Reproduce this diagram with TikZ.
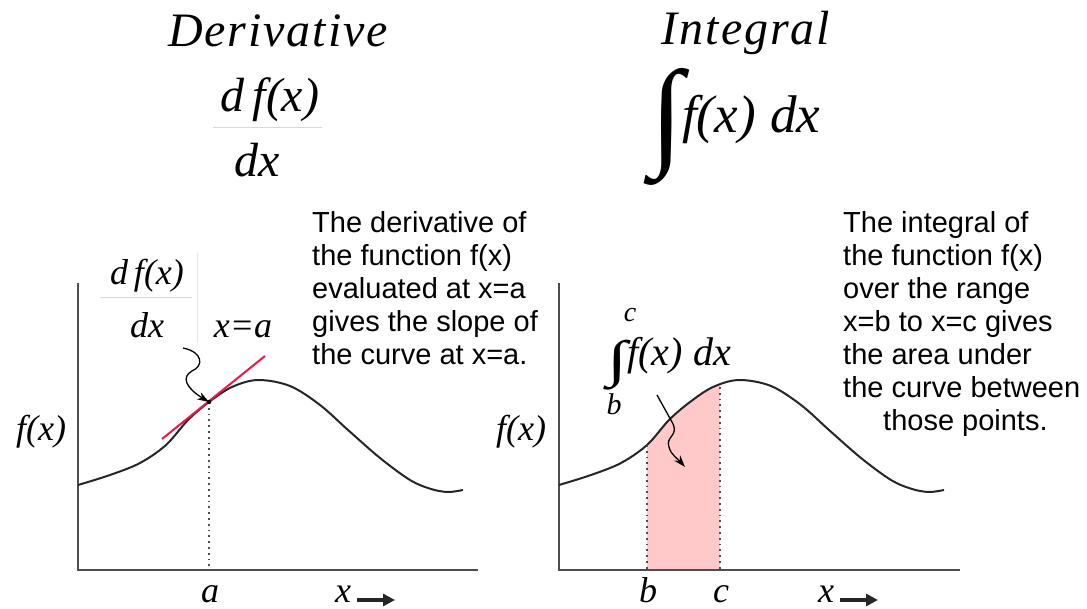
\documentclass[tikz,border=0pt]{standalone}
\usepackage{fontspec}
\setmainfont{Liberation Serif}
\newfontfamily\sansf{Liberation Sans}
\usetikzlibrary{arrows.meta}
\definecolor{axisgray}{HTML}{4D4D4D}
\definecolor{tanred}{HTML}{E8194B}
\definecolor{areapink}{HTML}{FFC9C9}
\begin{document}
\begin{tikzpicture}[x=1pt,y=-1pt,
  axis/.style={draw=axisgray, line width=2.5pt},
  fcurve/.style={draw=black!85, line width=2pt},
  guide/.style={draw=black!70, line width=1.8pt, dash pattern=on 1.8pt off 4pt},
  wavy/.style={draw=black, line width=1.3pt, -{Stealth[length=12pt,width=8pt]}},
  head/.style={font=\fontsize{48}{48}\selectfont\itshape, inner sep=0},
  lbl/.style={font=\fontsize{36}{36}\selectfont\itshape, inner sep=0},
  axlbl/.style={font=\fontsize{36}{36}\selectfont\itshape, inner sep=0},
  desc/.style={font=\sansf\fontsize{29}{33}\selectfont, align=left, inner sep=0, anchor=north west},
  fracbar/.style={draw=black!15, line width=1pt},
  xarrow/.style={draw=black!85, line width=3.5pt, -{Triangle[length=12pt,width=12pt]}}
]
\useasboundingbox (0,0) rectangle (1087,609);

% ---------------- headers
\node[head, anchor=base] (hder) at (278,47) {\addfontfeature{LetterSpace=4}Derivative};
\node[head, anchor=base] (hnum) at (270,112) {d\,f(x)};
\coordinate (hbarL) at (213,128);
\coordinate (hbarR) at (322,128);
\draw[fracbar] (hbarL) -- (hbarR);
\node[head, anchor=base] (hden) at (257,177) {dx};

\node[head, anchor=base] (hintg) at (746,45) {\addfontfeature{LetterSpace=4}Integral};
\node[inner sep=0, anchor=north west] (hint) at (650,68) {\resizebox*{33pt}{117pt}{\bfseries ∫}};
\node[head, anchor=base west, font=\fontsize{53}{53}\selectfont\itshape] (hintf) at (682,133) {f(x)\;dx};

% ---------------- left graph
\coordinate (LO) at (78,570);
\coordinate (LT) at (78,283);
\coordinate (LR) at (478,570);
\draw[axis] (LT) -- (LO) -- (LR);
\draw[fcurve] plot[smooth,tension=0.55] coordinates {(78,485) (110,475) (140,463) (166,445) (188,420) (209,402) (232,387) (258,380) (290,386) (320,405) (348,430) (380,458) (410,480) (431,489) (448,492) (463,490)};
\coordinate (A) at (209,402);
\coordinate (Aax) at (209,570);
\draw[guide] (A) -- (Aax);
\coordinate (TL) at (162,439);
\coordinate (TR) at (265,356);
\draw[tanred, line width=2pt] (TL) -- (TR);
\fill[black] (A) circle (2.2pt);
\coordinate (W1) at (183,348);
\draw[wavy] (W1) .. controls (203,352) and (204,366) .. (192,371) .. controls (181,377) and (186,388) .. (A);

\node[lbl, anchor=base] (lnum) at (147,285) {d\,f(x)};
\coordinate (lbarL) at (100,298);
\coordinate (lbarR) at (192,298);
\draw[fracbar] (lbarL) -- (lbarR);
\node[lbl, anchor=base] (lden) at (147,338) {dx};
\coordinate (vgT) at (197,253);
\coordinate (vgB) at (197,343);
\draw[draw=black!10, line width=1pt] (vgT) -- (vgB);
\node[lbl, anchor=base] (xeqa) at (243,338) {x=a};
\node[lbl, anchor=base] (lfx) at (41,440) {f(x)};
\node[axlbl, anchor=base] (la) at (210,602) {a};
\node[axlbl, anchor=base] (lx) at (343,602) {x};
\coordinate (lxa) at (395,600);
\draw[xarrow] ([xshift=6pt]lx.east |- lxa) -- (lxa);

\node[desc] (dtext) at (312,211) {The derivative of\\the function f(x)\\evaluated at x=a\\gives the slope of\\the curve at x=a.};

% ---------------- right graph
\begin{scope}[xshift=481pt]
  \clip (166,0) rectangle (239,570);
  \fill[areapink] plot[smooth,tension=0.55] coordinates {(78,485) (110,475) (140,463) (166,445) (188,420) (209,402) (232,387) (258,380) (290,386) (320,405) (348,430) (380,458) (410,480) (431,489) (448,492) (463,490)} -- (463,570) -- (78,570) -- cycle;
\end{scope}
\coordinate (RO) at (559,570);
\coordinate (RT) at (559,283);
\coordinate (RR) at (960,570);
\draw[axis] (RT) -- (RO) -- (RR);
\begin{scope}[xshift=481pt]
  \draw[fcurve] plot[smooth,tension=0.55] coordinates {(78,485) (110,475) (140,463) (166,445) (188,420) (209,402) (232,387) (258,380) (290,386) (320,405) (348,430) (380,458) (410,480) (431,489) (448,492) (463,490)};
\end{scope}
\coordinate (B) at (647,445);
\coordinate (Bax) at (647,570);
\coordinate (C) at (720,387);
\coordinate (Cax) at (720,570);
\draw[guide] (B) -- (Bax);
\draw[guide] (C) -- (Cax);

\node[inner sep=0, anchor=north west] (gint) at (607,340) {\resizebox*{20pt}{50pt}{\bfseries ∫}};
\node[inner sep=0, anchor=base, font=\fontsize{28}{28}\selectfont\itshape] (gc) at (630,322) {c};
\node[inner sep=0, anchor=base, font=\fontsize{30}{30}\selectfont\itshape] (gb) at (614,414) {b};
\node[anchor=base west, inner sep=0, font=\fontsize{40}{40}\selectfont\itshape] (gintf) at (627,366) {f(x)\;dx};
\coordinate (W2) at (657,395);
\coordinate (W2a) at (672,422);
\coordinate (W2e) at (685,467);
\draw[wavy] (W2) -- (W2a) .. controls (680,436) and (665,436) .. (669,447) .. controls (671,455) and (678,459) .. (W2e);

\node[lbl, anchor=base] (rfx) at (521,440) {f(x)};
\node[axlbl, anchor=base] (rb) at (648,602) {b};
\node[axlbl, anchor=base] (rc) at (721,602) {c};
\node[axlbl, anchor=base] (rx) at (826,602) {x};
\coordinate (rxa) at (878,600);
\draw[xarrow] ([xshift=6pt]rx.east |- rxa) -- (rxa);

\node[desc] (itext) at (843,211) {The integral of\\the function f(x)\\over the range\\x=b to x=c gives\\the area under\\the curve between\\\hspace*{40pt}those points.};
\end{tikzpicture}
\end{document}
